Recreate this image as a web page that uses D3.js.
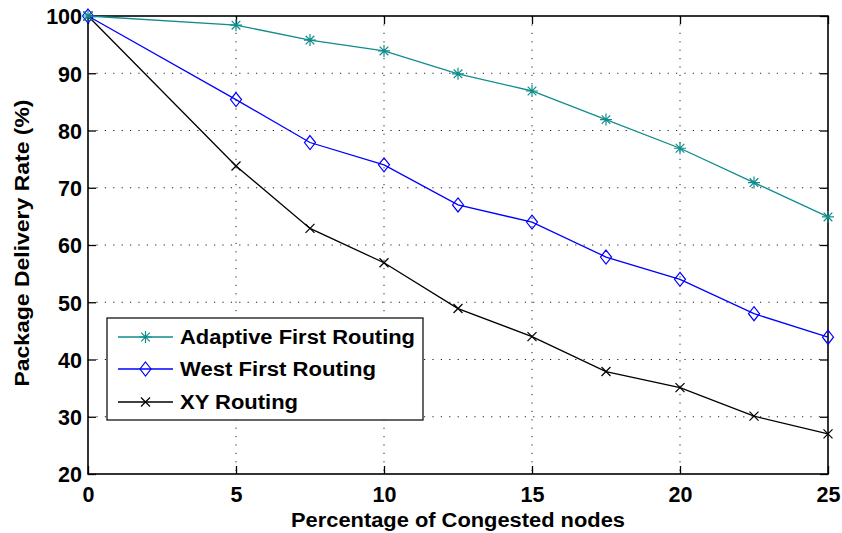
<!DOCTYPE html>
<html><head><meta charset="utf-8">
<script src="https://cdn.jsdelivr.net/npm/d3@7/dist/d3.min.js"></script>
<style>body{margin:0;background:#fff}text{font-family:"Liberation Sans",Arial,sans-serif;font-weight:bold}</style>
</head><body><svg id="c" width="842" height="533"></svg>
<script>
const xValues = [0, 5, 7.5, 10, 12.5, 15, 17.5, 20, 22.5, 25];
const adaptiveFirst = [100, 98.4, 95.8, 93.9, 89.9, 86.9, 81.9, 76.9, 70.9, 64.9];
const westFirst = [100, 85.4, 77.9, 74, 67, 64, 57.9, 54, 48, 43.9];
const xyRouting = [100, 73.8, 62.9, 56.9, 48.9, 44, 37.9, 35.1, 30.1, 27];
const seriesNames = ["Adaptive First Routing", "West First Routing", "XY Routing"];
const xTicks = [0, 5, 10, 15, 20, 25];
const yTicks = [20, 30, 40, 50, 60, 70, 80, 90, 100];

const colors = ["#108c8c", "#0000ff", "#000000"];
const markers = ["star", "diamond", "cross"];
const L = 88, R = 828, T = 16, B = 474;
const svg = d3.select("#c");
const x = d3.scaleLinear().domain([0, 25]).range([L, R]);
const y = d3.scaleLinear().domain([20, 100]).range([B, T]);

// grid
const g = svg.append("g");
g.selectAll(".gx").data(xTicks.filter(d => d > 0 && d < 25)).enter().append("line")
  .attr("x1", d => x(d)).attr("x2", d => x(d)).attr("y1", T).attr("y2", B)
  .attr("stroke", "#222").attr("stroke-width", 1).attr("stroke-dasharray", "1.2,7.2");
g.selectAll(".gy").data(yTicks.filter(d => d > 20 && d < 100)).enter().append("line")
  .attr("x1", L).attr("x2", R).attr("y1", d => y(d)).attr("y2", d => y(d))
  .attr("stroke", "#222").attr("stroke-width", 1).attr("stroke-dasharray", "1.2,7.2");

// axes with inward ticks
const tl = 8;
const ax = svg.append("g").attr("transform", `translate(0,${B})`)
  .call(d3.axisBottom(x).tickValues(xTicks).tickSizeInner(-tl).tickSizeOuter(0).tickPadding(13));
const axT = svg.append("g").attr("transform", `translate(0,${T})`)
  .call(d3.axisTop(x).tickValues(xTicks).tickSizeInner(-tl).tickSizeOuter(0).tickFormat(""));
const ay = svg.append("g").attr("transform", `translate(${L},0)`)
  .call(d3.axisLeft(y).tickValues(yTicks).tickSizeInner(-tl).tickSizeOuter(0).tickPadding(6));
const ayR = svg.append("g").attr("transform", `translate(${R},0)`)
  .call(d3.axisRight(y).tickValues(yTicks).tickSizeInner(-tl).tickSizeOuter(0).tickFormat(""));
[ax, axT, ay, ayR].forEach(a => {
  a.select(".domain").remove();
  a.selectAll("line").attr("stroke", "#000").attr("stroke-width", 1.3);
  a.selectAll("text").attr("fill", "#000").style("font-size", "21.5px").style("font-weight", "bold")
   .style("font-family", '"Liberation Sans",Arial,sans-serif');
});
ax.selectAll("text").attr("dy", "0.71em");
ay.selectAll("text").attr("dy", "0.36em");
svg.append("rect").attr("x", L).attr("y", T).attr("width", R - L).attr("height", B - T)
  .attr("fill", "none").attr("stroke", "#000").attr("stroke-width", 1.6);

// titles
svg.append("text").attr("x", 458).attr("y", 527).attr("text-anchor", "middle")
  .attr("textLength", 334).attr("lengthAdjust", "spacingAndGlyphs")
  .style("font-size", "20px").text("Percentage of Congested nodes");
svg.append("text").attr("transform", "translate(29,243) rotate(-90)").attr("text-anchor", "middle")
  .attr("textLength", 287).attr("lengthAdjust", "spacingAndGlyphs")
  .style("font-size", "20px").text("Package Delivery Rate (%)");

function drawMarker(sel, type, color) {
  if (type === "star") {
    const s = 6;
    sel.append("path").attr("d", `M${-s},0H${s}M0,${-s}V${s}M${-s*0.72},${-s*0.72}L${s*0.72},${s*0.72}M${-s*0.72},${s*0.72}L${s*0.72},${-s*0.72}`)
      .attr("stroke", color).attr("stroke-width", 1.2).attr("fill", "none");
  } else if (type === "diamond") {
    sel.append("path").attr("d", "M0,-7L5.5,0L0,7L-5.5,0Z")
      .attr("stroke", color).attr("stroke-width", 1.2).attr("fill", "none");
  } else {
    const s = 4.5;
    sel.append("path").attr("d", `M${-s},${-s}L${s},${s}M${-s},${s}L${s},${-s}`)
      .attr("stroke", color).attr("stroke-width", 1.2).attr("fill", "none");
  }
}

const data = [adaptiveFirst, westFirst, xyRouting];
const line = d3.line().x((d, i) => x(xValues[i])).y(d => y(d));
[2, 1, 0].forEach(k => {
  svg.append("path").datum(data[k]).attr("d", line).attr("fill", "none")
    .attr("stroke", colors[k]).attr("stroke-width", 1.3);
  data[k].forEach((v, i) => {
    const m = svg.append("g").attr("transform", `translate(${x(xValues[i])},${y(v)})`);
    drawMarker(m, markers[k], colors[k]);
  });
});

// legend
const lg = svg.append("g");
lg.append("rect").attr("x", 107).attr("y", 318).attr("width", 316).attr("height", 102)
  .attr("fill", "#fff").attr("stroke", "#000").attr("stroke-width", 1.2);
const ly = [337, 369, 402];
const lw = [235, 196, 118];
seriesNames.forEach((n, k) => {
  lg.append("line").attr("x1", 118).attr("x2", 173).attr("y1", ly[k]).attr("y2", ly[k])
    .attr("stroke", colors[k]).attr("stroke-width", 1.3);
  const m = lg.append("g").attr("transform", `translate(145.5,${ly[k]})`);
  drawMarker(m, markers[k], colors[k]);
  lg.append("text").attr("x", 180).attr("y", ly[k]).attr("dy", "0.36em")
    .attr("textLength", lw[k]).attr("lengthAdjust", "spacingAndGlyphs")
    .style("font-size", "20px").text(n);
});
</script></body></html>
